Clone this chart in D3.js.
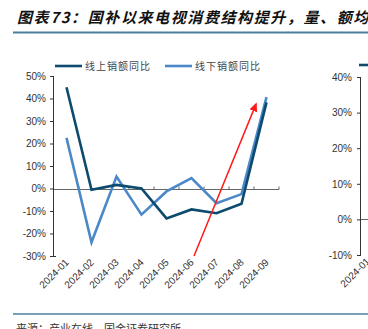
<!DOCTYPE html>
<html>
<head>
<meta charset="utf-8">
<script src="https://cdn.jsdelivr.net/npm/d3@7"></script>
<style>
  html, body { margin: 0; padding: 0; background: #fff; overflow: hidden; }
  svg { display: block; }
</style>
</head>
<body>
<svg id="chart" width="368" height="329"></svg>
<script>
// Monthly TV sales value, YoY
const months = ["2024-01","2024-02","2024-03","2024-04","2024-05","2024-06","2024-07","2024-08","2024-09"];
const onlineYoY  = [0.45, -0.006, 0.016, 0.0, -0.133, -0.093, -0.11, -0.068, 0.383];
const offlineYoY = [0.225, -0.239, 0.053, -0.116, -0.013, 0.046, -0.065, -0.025, 0.406];
const seriesNames = ["线上销额同比", "线下销额同比"];
const leftTicks = [0.5, 0.4, 0.3, 0.2, 0.1, 0, -0.1, -0.2, -0.3];
const rightTicks = [0.4, 0.3, 0.2, 0.1, 0, -0.1];
const rightMonths = ["2024-01"];
// trend arrow: rising from the June/July low towards September
const arrowFrom = { month: "2024-06", frac: 0.6, value: -0.30 };
const arrowTo   = { month: "2024-09", frac: 0.08, value: 0.375 };

const title = "图表73：国补以来电视消费结构提升，量、额均价齐升";
const source = "来源：产业在线，国金证券研究所";

const svg = d3.select("#chart");
const font = "Liberation Sans, Arial, sans-serif";
const cjk = "Noto Sans CJK SC, sans-serif";
const darkBlue = "#0c4a6e";
const lightBlue = "#4a88c8";
const ruleBlue = "#4d7f9c";
const ink = "#333";

// header
svg.append("text").attr("x", 17).attr("y", 23)
  .attr("font-family", cjk).attr("font-size", 15).attr("font-weight", "bold")
  .attr("font-style", "italic").attr("fill", "#111")
  .attr("letter-spacing", 1.6)
  .text(title);
svg.append("line").attr("x1", 13).attr("x2", 368).attr("y1", 32.5).attr("y2", 32.5)
  .attr("stroke", ruleBlue).attr("stroke-width", 2);

// footer
svg.append("line").attr("x1", 13).attr("x2", 368).attr("y1", 314).attr("y2", 314)
  .attr("stroke", ruleBlue).attr("stroke-width", 1.5);
svg.append("text").attr("x", 16).attr("y", 333)
  .attr("font-family", cjk).attr("font-size", 11).attr("fill", ink)
  .text(source);

// ----- left chart -----
const x = d3.scaleBand().domain(months).range([54, 279]).paddingInner(0).paddingOuter(0);
const y = d3.scaleLinear().domain([-0.3, 0.5]).range([256, 76]);

const yAxis = d3.axisLeft(y).tickValues(leftTicks).tickSize(4).tickPadding(4)
  .tickFormat(d => Math.round(d * 100) + "%");
const gy = svg.append("g").attr("transform", "translate(54,0)").call(yAxis);
gy.select(".domain").attr("stroke", ink).attr("stroke-width", 1).attr("d", "M-0.5,76V256.5H2");
gy.selectAll(".tick line").attr("stroke", ink);
gy.selectAll("text").attr("font-family", font).attr("font-size", 10).attr("fill", ink);

// zero baseline with upward ticks at category boundaries
const zeroY = Math.round(y(0)) + 0.5;
svg.append("line").attr("x1", 54).attr("x2", 279).attr("y1", zeroY).attr("y2", zeroY)
  .attr("stroke", "#666").attr("stroke-width", 1);
svg.append("g").selectAll("line").data(months)
  .join("line")
  .attr("x1", d => x(d) + x.bandwidth())
  .attr("x2", d => x(d) + x.bandwidth())
  .attr("y1", zeroY).attr("y2", zeroY - 3)
  .attr("stroke", "#666");

// rotated month labels
svg.append("g").selectAll("text").data(months).join("text")
  .attr("transform", d => `translate(${x(d) + x.bandwidth() / 2 + 3},${263}) rotate(-45)`)
  .attr("text-anchor", "end")
  .attr("font-family", font).attr("font-size", 10).attr("fill", ink)
  .text(d => d);

const line = d3.line().x((d, i) => x(months[i]) + x.bandwidth() / 2).y(d => y(d));
svg.append("path").datum(offlineYoY).attr("d", line)
  .attr("fill", "none").attr("stroke", lightBlue).attr("stroke-width", 2.6)
  .attr("stroke-linejoin", "miter");
svg.append("path").datum(onlineYoY).attr("d", line)
  .attr("fill", "none").attr("stroke", darkBlue).attr("stroke-width", 2.6)
  .attr("stroke-linejoin", "miter");

// trend arrow
svg.append("defs").append("marker").attr("id", "arrowHead")
  .attr("viewBox", "0 0 10 10").attr("refX", 8).attr("refY", 5)
  .attr("markerWidth", 6).attr("markerHeight", 6).attr("orient", "auto")
  .append("path").attr("d", "M0,0.5L10,5L0,9.5Z").attr("fill", "#ff1a1a");
svg.append("line")
  .attr("x1", x(arrowFrom.month) + x.bandwidth() * arrowFrom.frac).attr("y1", y(arrowFrom.value))
  .attr("x2", x(arrowTo.month) + x.bandwidth() * arrowTo.frac).attr("y2", y(arrowTo.value))
  .attr("stroke", "#ff1a1a").attr("stroke-width", 1.5)
  .attr("marker-end", "url(#arrowHead)");

// legend
const legend = svg.append("g").selectAll("g").data(seriesNames).join("g")
  .attr("transform", (d, i) => `translate(${i === 0 ? 55 : 165},66)`);
legend.append("line").attr("x1", 0).attr("x2", 27).attr("y1", 0).attr("y2", 0)
  .attr("stroke", (d, i) => i === 0 ? darkBlue : lightBlue).attr("stroke-width", 2.6);
legend.append("text").attr("x", 30).attr("y", 4)
  .attr("font-family", cjk).attr("font-size", 10).attr("fill", "#444")
  .attr("letter-spacing", 1)
  .text(d => d);

// ----- right chart (continues beyond the frame) -----
const x2 = d3.scaleBand().domain(rightMonths).range([361, 386]);
const y2 = d3.scaleLinear().domain([-0.1, 0.4]).range([255, 77]);
const gy2 = svg.append("g").attr("transform", "translate(361,0)")
  .call(d3.axisLeft(y2).tickValues(rightTicks).tickSize(4).tickPadding(5)
    .tickFormat(d => Math.round(d * 100) + "%"));
gy2.select(".domain").attr("stroke", ink).attr("d", "M-0.5,77V255.5");
gy2.selectAll(".tick line").attr("stroke", ink);
gy2.selectAll("text").attr("font-family", font).attr("font-size", 10).attr("fill", ink);
svg.append("line").attr("x1", 361).attr("x2", 368)
  .attr("y1", Math.round(y2(0)) + 0.5).attr("y2", Math.round(y2(0)) + 0.5)
  .attr("stroke", "#666");
svg.append("g").selectAll("text").data(rightMonths).join("text")
  .attr("transform", d => `translate(${x2(d) + x2.bandwidth() / 2 - 3},${262}) rotate(-45)`)
  .attr("text-anchor", "end")
  .attr("font-family", font).attr("font-size", 10).attr("fill", ink)
  .text(d => d);
svg.append("line").attr("x1", 359).attr("x2", 386).attr("y1", 65).attr("y2", 65)
  .attr("stroke", darkBlue).attr("stroke-width", 2.6);
</script>
</body>
</html>
